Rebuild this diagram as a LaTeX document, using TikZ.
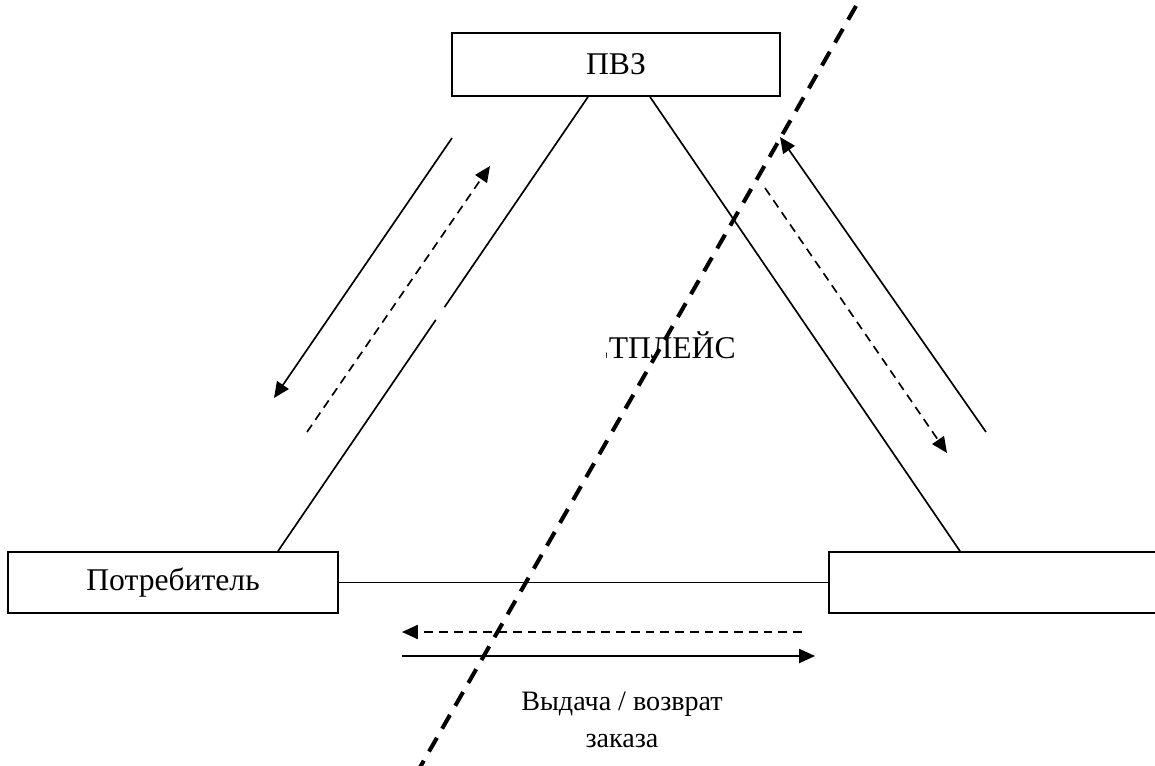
\documentclass[tikz,border=0pt]{standalone}
\usepackage{fontspec}
\setmainfont{Liberation Serif}
\usetikzlibrary{arrows.meta,calc}

\tikzset{
  box/.style={draw, line width=1pt, inner sep=0pt},
  edge/.style={line width=0.95pt},
  flow/.style={line width=0.95pt, -{Triangle[length=9pt,width=8pt]}},
  back/.style={flow, dash pattern=on 5pt off 3.4pt},
  cut/.style={line width=2.3pt, dash pattern=on 9pt off 6pt}
}

\begin{document}
\begin{tikzpicture}[x=0.02cm, y=-0.02cm, font=\fontsize{18}{22}\selectfont]
 \useasboundingbox (0,0) rectangle (1155,766);
 \clip (0,0) rectangle (1155,766);

 % boxes
 \node[box, minimum width=6.56cm, minimum height=1.26cm] (pvz) at (616,64.5) {ПВЗ};
 \node[box, minimum width=6.6cm, minimum height=1.22cm] (consumer) at (173,582.5) {Потребитель};
 \node[box, minimum width=7cm, minimum height=1.22cm, anchor=west] (seller) at (828,582.5) {};

 % triangle
 \coordinate (pl) at ([xshift=-0.56cm]pvz.south);
 \coordinate (pr) at ([xshift=0.68cm]pvz.south);
 \coordinate (cl) at ([xshift=2.1cm]consumer.north);
 \coordinate (sl) at ([xshift=2.64cm]seller.north west);

 \draw[edge] (pl) -- ($(pl)!0.463!(cl)$);
 \draw[edge] ($(pl)!0.491!(cl)$) -- (cl);
 \draw[edge] (pr) -- (sl);
 \draw[edge] (consumer.east) -- (seller.west);

 % label in the middle
 \begin{scope}
  \clip (606,320) rectangle (760,380);
  \node[anchor=base east, inner sep=0pt] (market) at (736,358) {ЕТПЛЕЙС};
 \end{scope}

 % left side flows
 \coordinate (l1) at (452,138);
 \coordinate (l2) at (274,398);
 \coordinate (l3) at (307,432);
 \coordinate (l4) at (490,166);
 \draw[flow] (l1) -- (l2);
 \draw[back] (l3) -- (l4);

 % right side flows
 \coordinate (r1) at (986,432);
 \coordinate (r2) at (780,137);
 \coordinate (r3) at (765,188);
 \coordinate (r4) at (947,453);
 \draw[flow] (r1) -- (r2);
 \draw[back] (r3) -- (r4);

 % bottom flows
 \coordinate (b1) at (802,632);
 \coordinate (b2) at (402,632);
 \coordinate (b3) at (402,656);
 \coordinate (b4) at (815,656);
 \draw[back] (b1) -- (b2);
 \draw[flow] (b3) -- (b4);

 \node[align=center, font=\fontsize{16}{21}\selectfont] (order) at (622,720) {Выдача / возврат\\заказа};

 % boundary
 \coordinate (c1) at (856,6);
 \coordinate (c2) at (407,790);
 \draw[cut] (c1) -- (c2);
\end{tikzpicture}
\end{document}
